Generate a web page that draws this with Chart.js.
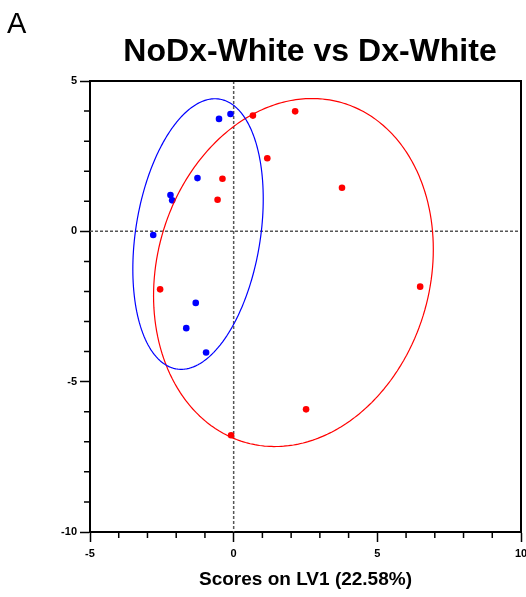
<!DOCTYPE html>
<html>
<head>
<meta charset="utf-8">
<script src="https://cdn.jsdelivr.net/npm/chart.js@4.4.1/dist/chart.umd.min.js"></script>
<style>
  html, body { margin: 0; padding: 0; background: #fff; }
</style>
</head>
<body>
<canvas id="scoresChart" width="526" height="597"></canvas>
<script>
// scores on LV1 / LV2
const blueX = [-0.51, -0.11, -1.26, -2.20, -2.14, -2.80, -1.32, -1.65, -0.96];
const blueY = [3.74, 3.90, 1.77, 1.21, 1.03, -0.12, -2.38, -3.22, -4.03];
const redX = [0.67, 2.14, 1.17, -0.39, -0.56, 3.77, 6.49, -2.56, 2.52, -0.09];
const redY = [3.85, 3.99, 2.43, 1.75, 1.05, 1.45, -1.84, -1.93, -5.92, -6.78];

// confidence ellipses: centre and covariance (data units)
const blueEllipse = { cx: -1.24, cy: -0.09, sxx: 5.15, syy: 20.25, sxy: 2.65 };
const redEllipse = { cx: 2.08, cy: -1.37, sxx: 23.7, syy: 33.5, sxy: 3.75 };

const xRange = [-5, 10];
const yRange = [-10, 5];
const xMajorTicks = [-5, 0, 5, 10];
const yMajorTicks = [-10, -5, 0, 5];

const titleText = 'NoDx-White vs Dx-White';
const panelLetter = 'A';
const xTitle = 'Scores on LV1 (22.58%)';

function ellipsePoints(e){
  // outline of (p-c)' S^-1 (p-c) = 1 via Cholesky factor of S
  const l11 = Math.sqrt(e.sxx);
  const l21 = e.sxy / l11;
  const l22 = Math.sqrt(e.syy - l21 * l21);
  const pts = [];
  for(let i = 0; i <= 180; i++){
    const t = i / 180 * 2 * Math.PI;
    const c = Math.cos(t), s = Math.sin(t);
    pts.push({ x: e.cx + l11 * c, y: e.cy + l21 * c + l22 * s });
  }
  return pts;
}

const toPoints = (xs, ys) => xs.map((v, i) => ({ x: v, y: ys[i] }));

const FONT = '"Liberation Sans", Arial, sans-serif';

const decor = {
  id: 'decor',
  beforeDatasetsDraw(chart){
    const { ctx, chartArea: a, scales: { x, y } } = chart;
    const x0 = x.getPixelForValue(0), y0 = y.getPixelForValue(0);
    ctx.save();
    ctx.strokeStyle = '#555';
    ctx.lineWidth = 1.5;
    ctx.setLineDash([3, 2]);
    ctx.beginPath();
    ctx.moveTo(x0, a.top); ctx.lineTo(x0, a.bottom);
    ctx.moveTo(a.left, y0); ctx.lineTo(a.right, y0);
    ctx.stroke();
    ctx.restore();
  },
  afterDraw(chart){
    const { ctx, chartArea: a, scales: { x, y } } = chart;
    ctx.save();
    // top and right edges of the frame
    ctx.strokeStyle = '#000';
    ctx.lineWidth = 2;
    ctx.beginPath();
    ctx.moveTo(a.left, a.top); ctx.lineTo(a.right, a.top); ctx.lineTo(a.right, a.bottom);
    ctx.stroke();
    // minor ticks (shorter than the labelled ones)
    ctx.lineWidth = 1.5;
    ctx.beginPath();
    x.ticks.forEach(t => {
      if(xMajorTicks.includes(t.value)) return;
      const px = x.getPixelForValue(t.value);
      ctx.moveTo(px, a.bottom); ctx.lineTo(px, a.bottom + 6);
    });
    y.ticks.forEach(t => {
      if(yMajorTicks.includes(t.value)) return;
      const py = y.getPixelForValue(t.value);
      ctx.moveTo(a.left, py); ctx.lineTo(a.left - 6, py);
    });
    ctx.stroke();
    // panel letter and title
    ctx.fillStyle = '#000';
    ctx.textBaseline = 'alphabetic';
    ctx.textAlign = 'left';
    ctx.font = '29px ' + FONT;
    ctx.fillText(panelLetter, 7, 33);
    ctx.textAlign = 'center';
    ctx.font = 'bold 32px ' + FONT;
    ctx.fillText(titleText, 310, 61);
    ctx.restore();
  }
};

const majorOnly = list => ctx => list.includes(ctx.tick.value) ? '#000' : 'rgba(0,0,0,0)';

// tiny tension keeps Chart.js off its fast path, which mangles near-vertical runs
const ellipseStyle = { showLine: true, borderWidth: 1.2, pointRadius: 0, fill: false, tension: 0.001 };

new Chart(document.getElementById('scoresChart'), {
  type: 'scatter',
  data: {
    datasets: [
      { ...ellipseStyle, data: ellipsePoints(blueEllipse), borderColor: '#0000ff' },
      { ...ellipseStyle, data: ellipsePoints(redEllipse), borderColor: '#ff0000' },
      { data: toPoints(blueX, blueY), backgroundColor: '#0000ff', borderColor: '#0000ff', pointRadius: 3.3, borderWidth: 0 },
      { data: toPoints(redX, redY), backgroundColor: '#ff0000', borderColor: '#ff0000', pointRadius: 3.3, borderWidth: 0 }
    ]
  },
  options: {
    responsive: false,
    animation: false,
    devicePixelRatio: 1,
    layout: { padding: { top: 81, right: 5, left: 0, bottom: 0 } },
    plugins: { legend: { display: false }, tooltip: { enabled: false }, title: { display: false } },
    scales: {
      x: {
        type: 'linear', min: xRange[0], max: xRange[1],
        grid: { drawOnChartArea: false, drawTicks: true, tickLength: 10, tickWidth: 1.5, tickColor: majorOnly(xMajorTicks) },
        border: { display: true, color: '#000', width: 2 },
        ticks: {
          stepSize: 1, autoSkip: false, maxRotation: 0, padding: 5, color: '#000',
          font: { family: FONT, size: 11, weight: 'bold' },
          callback: v => xMajorTicks.includes(v) ? String(v) : ''
        },
        title: { display: true, text: xTitle, color: '#000', font: { family: FONT, size: 19, weight: 'bold' }, padding: { top: 4, bottom: 6 } },
        afterFit(scale){ scale.height = 65; scale.paddingLeft = 0; scale.paddingRight = 0; }
      },
      y: {
        type: 'linear', min: yRange[0], max: yRange[1],
        grid: { drawOnChartArea: false, drawTicks: true, tickLength: 10, tickWidth: 1.5, tickColor: majorOnly(yMajorTicks) },
        border: { display: true, color: '#000', width: 2 },
        ticks: {
          stepSize: 1, autoSkip: false, padding: 3, color: '#000',
          font: { family: FONT, size: 11, weight: 'bold' },
          callback: v => yMajorTicks.includes(v) ? String(v) : ''
        },
        afterFit(scale){ scale.width = 90; scale.paddingTop = 0; scale.paddingBottom = 0; }
      }
    }
  },
  plugins: [decor]
});
</script>
</body>
</html>
